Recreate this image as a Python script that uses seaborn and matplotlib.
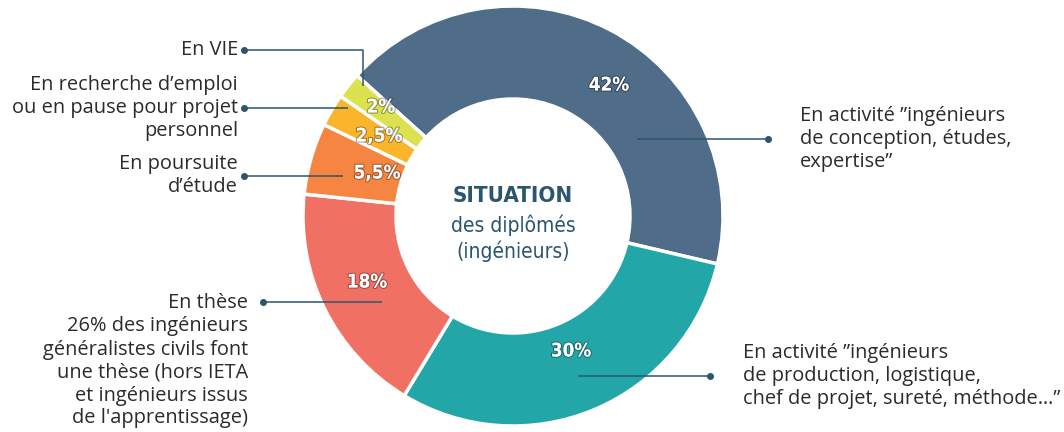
import matplotlib.pyplot as plt
import matplotlib.patheffects as pe
import seaborn as sns

sns.set_theme(style="white")
plt.rcParams['font.family'] = ['Open Sans', 'DejaVu Sans']

# data
shares = [42, 30, 18, 5.5, 2.5, 2]
pct_labels = ['42%', '30%', '18%', '5,5%', '2,5%', '2%']
categories = [
    'En activité ”ingénieurs\nde conception, études,\nexpertise”',
    'En activité ”ingénieurs\nde production, logistique,\nchef de projet, sureté, méthode…”',
    "En thèse\n26% des ingénieurs\ngénéralistes civils font\nune thèse (hors IETA\net ingénieurs issus\nde l'apprentissage)",
    'En poursuite\nd’étude',
    'En recherche d’emploi\nou en pause pour projet\npersonnel',
    'En VIE',
]
colors = ['#4f6d88', '#23a6a8', '#f17064', '#f58540', '#fbb52b', '#dce14f']

W, H = 1064, 432
cx, cy = 513, 216
line_col = '#2b5670'
txt_col = '#2b2b2b'
cond = dict(family='DejaVu Sans', fontstretch='condensed')

def Y(y):
    return H - y

fig = plt.figure(figsize=(10.64, 4.32), dpi=100)
ax = fig.add_axes([0, 0, 1, 1])
ax.pie(shares, colors=colors, startangle=138, counterclock=False,
       radius=210, center=(cx, cy),
       wedgeprops=dict(width=93, edgecolor='white', linewidth=2.5))
ax.set_xlim(0, W)
ax.set_ylim(0, H)
ax.set_aspect('equal')
ax.axis('off')

# percentage labels inside the ring
pct_pos = [(609, 85), (571, 351), (367, 282), (377, 173), (379, 136), (381, 107)]
for lab, (x, y) in zip(pct_labels, pct_pos):
    ax.text(x, Y(y), lab, color='white', fontsize=13.5, fontweight='bold',
            ha='center', va='center', **cond,
            path_effects=[pe.withStroke(linewidth=1.6, foreground='#00000055')])

# leader lines: (path, text x, text y, alignment)
leaders = [
    ([(637, 139), (768, 139)], 800, 139, 'left'),
    ([(578, 376), (710, 376)], 743, 376, 'left'),
    ([(382, 302), (263, 302)], 248, 361, 'right'),
    ([(343, 176), (244, 176)], 238, 176, 'right'),
    ([(348, 108), (244, 108)], 238, 108, 'right'),
    ([(363, 86), (363, 50), (244, 50)], 238, 50, 'right'),
]
for (path, tx, ty, ha), cat in zip(leaders, categories):
    xs = [p[0] for p in path]
    ys = [Y(p[1]) for p in path]
    ax.plot(xs, ys, color=line_col, lw=1.1, solid_capstyle='butt')
    ax.plot(xs[-1], ys[-1], 'o', color=line_col, ms=4)
    ax.text(tx, Y(ty), cat, ha=ha, va='center', multialignment=ha,
            fontsize=14.4, color=txt_col, linespacing=1.2)

# centre title
ax.text(cx, Y(196), 'SITUATION', ha='center', va='center', color=line_col,
        fontsize=16, fontweight='bold', **cond)
ax.text(cx, Y(225), 'des diplômés', ha='center', va='center', color=line_col,
        fontsize=15, **cond)
ax.text(cx, Y(251), '(ingénieurs)', ha='center', va='center', color=line_col,
        fontsize=15, **cond)

fig.savefig('out.png', dpi=100)
